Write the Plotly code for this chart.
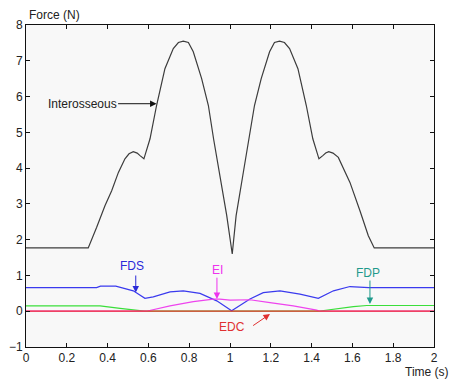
import plotly.graph_objects as go

# Interosseous (black)
t_int = [0, 0.305, 0.346, 0.387, 0.42, 0.453, 0.485, 0.505, 0.526, 0.545, 0.559, 0.578,
         0.608, 0.64, 0.681, 0.722, 0.747, 0.771, 0.796, 0.82, 0.861, 0.894, 0.92,
         0.951, 0.984, 1.011,
         1.03, 1.063, 1.094, 1.12, 1.153, 1.194, 1.218, 1.243, 1.267, 1.292, 1.333,
         1.374, 1.406, 1.436, 1.455, 1.469, 1.484, 1.505, 1.531, 1.588, 1.637, 1.678,
         1.707, 2.0]
f_int = [1.77, 1.77, 2.34, 2.95, 3.37, 3.88, 4.26, 4.40, 4.46, 4.42, 4.35, 4.26,
         4.82, 5.75, 6.78, 7.34, 7.51, 7.55, 7.51, 7.25, 6.5, 5.75, 4.8,
         3.8, 2.67, 1.6,
         2.67, 3.8, 4.8, 5.75, 6.5, 7.25, 7.51, 7.55, 7.51, 7.34, 6.78,
         5.75, 4.82, 4.26, 4.35, 4.42, 4.46, 4.42, 4.3, 3.6, 2.81, 2.11,
         1.77, 1.77]

# FDS (blue)
t_fds = [0, 0.346, 0.365, 0.44, 0.526, 0.583, 0.624, 0.706, 0.771, 0.853, 0.935, 1.008,
         1.098, 1.163, 1.245, 1.343, 1.433, 1.507, 1.588, 1.654, 1.68, 2.0]
f_fds = [0.66, 0.66, 0.70, 0.70, 0.57, 0.36, 0.40, 0.54, 0.57, 0.50, 0.29, 0.01,
         0.34, 0.52, 0.57, 0.48, 0.36, 0.57, 0.69, 0.68, 0.66, 0.66]

# FDP (green)
t_fdp = [0, 0.363, 0.461, 0.54, 0.58, 1.433, 1.523, 1.605, 1.67, 2.0]
f_fdp = [0.15, 0.15, 0.08, 0.03, 0.0, 0.0, 0.07, 0.13, 0.16, 0.16]

# EI (magenta)
t_ei = [0, 0.59, 0.706, 0.82, 0.918, 0.95, 1.0, 1.03, 1.098, 1.196, 1.31, 1.425, 1.44, 2.0]
f_ei = [0, 0.0, 0.15, 0.27, 0.34, 0.34, 0.31, 0.31, 0.32, 0.24, 0.15, 0.03, 0.0, 0.0]

# EDC (red)
t_edc = [0, 2.0]
f_edc = [0, 0]

x_ticks = [0, 0.2, 0.4, 0.6, 0.8, 1, 1.2, 1.4, 1.6, 1.8, 2]
x_tick_text = ["0", "0.2", "0.4", "0.6", "0.8", "1", "1.2", "1.4", "1.6", "1.8", "2"]
y_ticks = [-1, 0, 1, 2, 3, 4, 5, 6, 7, 8]

FONT = "Liberation Sans, Arial, sans-serif"

fig = go.Figure()
lw = 1.2
fig.add_trace(go.Scatter(x=t_int, y=f_int, mode="lines", line=dict(color="#3c3c3c", width=lw)))
fig.add_trace(go.Scatter(x=t_fdp, y=f_fdp, mode="lines", line=dict(color="#3ade3a", width=lw)))
fig.add_trace(go.Scatter(x=t_fds, y=f_fds, mode="lines", line=dict(color="#3a3aee", width=lw)))
fig.add_trace(go.Scatter(x=t_ei, y=f_ei, mode="lines", line=dict(color="#ee44ee", width=lw)))
fig.add_trace(go.Scatter(x=t_edc, y=f_edc, mode="lines", line=dict(color="#ee3333", width=lw)))

def label(text, x, y, color):
    fig.add_annotation(x=x, y=y, xref="x", yref="y", text=text, showarrow=False,
                       font=dict(family=FONT, size=12, color=color))

def arrow(x0, y0, x1, y1, color):
    fig.add_annotation(x=x1, y=y1, ax=x0, ay=y0, xref="x", yref="y", axref="x", ayref="y",
                       text="", showarrow=True, arrowhead=2, arrowsize=1.3, arrowwidth=1,
                       arrowcolor=color, standoff=0, startstandoff=0)

# Interosseous
fig.add_annotation(x=0.64, y=5.8, ax=0.275, ay=5.8, xref="x", yref="y", axref="x", ayref="y",
                   text="Interosseous", showarrow=True, arrowhead=2, arrowsize=1.3, arrowwidth=1,
                   arrowcolor="#111111", font=dict(family=FONT, size=12, color="#222222"))

label("FDS", 0.52, 1.27, "#2a2ad8")
arrow(0.538, 1.04, 0.538, 0.52, "#2a2ad8")
label("EI", 0.938, 1.16, "#ee33ee")
arrow(0.936, 0.98, 0.936, 0.34, "#ee33ee")
label("FDP", 1.678, 1.08, "#1f9a8c")
arrow(1.686, 0.9, 1.686, 0.2, "#1f9a8c")
label("EDC", 1.008, -0.43, "#e03030")
arrow(1.106, -0.43, 1.196, -0.08, "#e03030")

# Axis titles
fig.add_annotation(x=0.0, y=1.0, xref="paper", yref="paper", xanchor="left", yanchor="bottom",
                   xshift=1, yshift=1, text="Force (N)", showarrow=False,
                   font=dict(family=FONT, size=12, color="#222222"))
fig.add_annotation(x=1.0, y=0.0, xref="paper", yref="paper", xanchor="center", yanchor="top",
                   xshift=-7, yshift=-16, text="Time (s)", showarrow=False,
                   font=dict(family=FONT, size=12, color="#222222"))

axis_common = dict(showgrid=False, zeroline=False, showline=True, linecolor="#111111",
                   linewidth=1, mirror="ticks", ticks="inside", ticklen=4, tickcolor="#111111",
                   automargin=False,
                   tickfont=dict(family=FONT, size=12, color="#222222"))
fig.update_xaxes(range=[0, 2], tickvals=x_ticks, ticktext=x_tick_text, **axis_common)
fig.update_yaxes(range=[-1, 8], tickvals=y_ticks, **axis_common)

fig.update_layout(width=453, height=379, showlegend=False,
                  margin=dict(l=26, r=19, t=25, b=32),
                  paper_bgcolor="white", plot_bgcolor="#f8f8f8",
                  font=dict(family=FONT, size=12, color="#222222"))

# Remove the browser's default body margin so the figure fills the window exactly.
fig.write_html("out.html",
               config={"displayModeBar": False, "staticPlot": True},
               post_script="document.body.style.margin='0px';document.body.style.overflow='hidden';")
